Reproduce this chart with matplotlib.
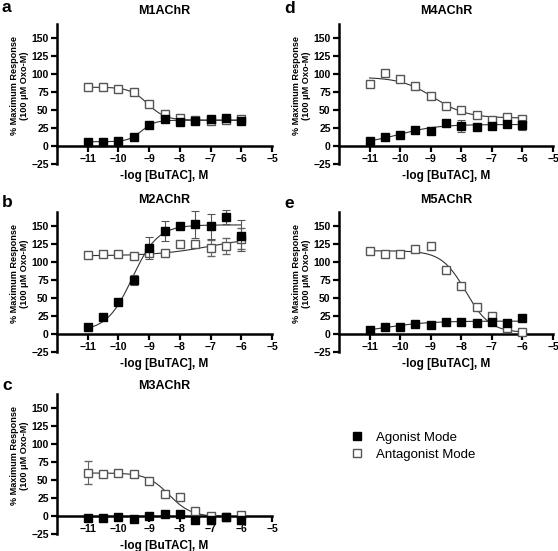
import numpy as np
import matplotlib
matplotlib.use("Agg")
import matplotlib.pyplot as plt
from matplotlib.lines import Line2D

plt.rcParams['font.family'] = ['Liberation Sans', 'DejaVu Sans']

#######################################
# data

log_conc = [-11, -10.5, -10, -9.5, -9, -8.5, -8, -7.5, -7, -6.5, -6]

panel_letters = ["a", "b", "c", "d", "e"]
panel_titles = ["M1AChR", "M2AChR", "M3AChR", "M4AChR", "M5AChR"]

agonist_m1 = [5.5, 6, 7, 12, 29, 37, 33, 35, 38, 39, 35]
antagonist_m1 = [82, 82, 80, 75, 58, 45, 39, 36, 35, 36, 38]

agonist_m2 = [10, 24, 45, 75, 120, 144, 150, 153, 150, 163, 137]
agonist_m2_err = [0, 0, 0, 7, 15, 14, 0, 19, 17, 10, 22]
antagonist_m2 = [110, 111, 111, 109, 113, 113, 126, 125, 120, 123, 133]
antagonist_m2_err = [3, 0, 0, 0, 0, 0, 0, 0, 11, 11, 15]

agonist_m3 = [-3, -3, -1, -4, 0, 3, 3, -5, -5, -1, -6]
antagonist_m3 = [60, 59, 60, 58, 49, 31, 26, 7, 0, -2, 1]
antagonist_m3_err = [16, 0, 0, 0, 0, 0, 0, 0, 0, 0, 0]

agonist_m4 = [7, 12.5, 15, 22, 21, 32, 28, 26, 28.5, 31, 29]
agonist_m4_err = [0, 0, 0, 0, 0, 0, 8, 0, 0, 0, 7]
antagonist_m4 = [87, 102, 94, 84, 70, 56, 50, 43, 36, 41, 38]

agonist_m5 = [5.5, 10.5, 10.5, 14, 13, 17, 17, 15, 17, 16, 23]
antagonist_m5 = [116, 112, 112, 118, 122, 89, 67, 37, 25, 8, 3]
antagonist_m5_err = [4, 0, 0, 0, 0, 0, 0, 0, 0, 0, 0]

# fitted curves: bottom, top, logEC50, hill (None = no curve drawn)
agonist_fits = [(6, 36, -9.25, 2.0), (4, 152, -9.55, 1.05), None,
                (3, 30, -10.0, 0.7), (0, 18, -10.5, 0.6)]
antagonist_fits = [(36, 82, -9.05, -1.5), (109, 136, -7.0, 0.5), (-1, 60, -8.35, -1.2),
                   (39, 96, -8.9, -0.8), (2, 116, -7.85, -1.1)]

agonist_all = [agonist_m1, agonist_m2, agonist_m3, agonist_m4, agonist_m5]
antagonist_all = [antagonist_m1, antagonist_m2, antagonist_m3, antagonist_m4, antagonist_m5]
zeros = [0] * len(log_conc)
agonist_err_all = [zeros, agonist_m2_err, zeros, agonist_m4_err, zeros]
antagonist_err_all = [zeros, antagonist_m2_err, antagonist_m3_err, zeros, antagonist_m5_err]

#######################################

W, H = 558, 551
fig = plt.figure(figsize=(W / 100, H / 100), dpi=100)

# axes boxes in pixels: left, top, right, bottom
boxes = [(57, 24, 272, 164), (57, 212, 272, 352), (57, 394, 272, 534),
         (339, 24, 553, 164), (339, 212, 553, 352)]
# baselines (pixels from top) for panel letter and title
letter_base = [12, 207, 390, 13, 208]
title_base = [14, 203, 389, 14, 203]


def four_pl(x, p):
    bottom, top, logec, hill = p
    return bottom + (top - bottom) / (1 + 10 ** ((logec - x) * hill))


xs = np.linspace(-11, -6, 300)

for i, (l, t, r, b) in enumerate(boxes):
    ax = fig.add_axes([l / W, 1 - b / H, (r - l) / W, (b - t) / H])
    ax.set_xlim(-12, -5)
    ax.set_ylim(-25, 170)
    ax.spines['top'].set_visible(False)
    ax.spines['right'].set_visible(False)
    ax.spines['bottom'].set_position(('data', 0))
    for s in ['left', 'bottom']:
        ax.spines[s].set_linewidth(1.8)
    ax.set_xticks(range(-11, -4))
    ax.set_yticks(range(-25, 151, 25))
    ax.tick_params(width=1.6, length=4, labelsize=7.5, pad=2)
    for lab in ax.get_xticklabels() + ax.get_yticklabels():
        lab.set_fontweight('bold')

    if agonist_fits[i] is not None:
        ax.plot(xs, four_pl(xs, agonist_fits[i]), color='#333333', lw=0.8)
    ax.plot(xs, four_pl(xs, antagonist_fits[i]), color='#333333', lw=0.8)

    ax.errorbar(log_conc, antagonist_all[i], yerr=antagonist_err_all[i], fmt='s',
                ms=5.5, mfc='white', mec='#555555', mew=1.0, ecolor='#666666',
                elinewidth=0.8, capsize=3, capthick=0.8, clip_on=False, zorder=3)
    ax.errorbar(log_conc, agonist_all[i], yerr=agonist_err_all[i], fmt='s',
                ms=5.5, mfc='black', mec='black', ecolor='#555555',
                elinewidth=0.8, capsize=3, capthick=0.8, clip_on=False, zorder=4)

    ax.set_xlabel("-log [BuTAC], M", fontsize=8.5, fontweight='bold')
    ax.xaxis.label.set_va('center')
    ax.xaxis.set_label_coords(0.5, -12 / 140)
    ax.set_ylabel("% Maximum Response\n(100 \u03bcM Oxo-M)", fontsize=6.6,
                  fontweight='bold', linespacing=1.15)
    ax.yaxis.set_label_coords(-0.13, 0.56)

    fig.text((l + r) / 2 / W, 1 - title_base[i] / H, panel_titles[i], fontsize=9,
             fontweight='bold', ha='center', va='baseline')
    fig.text((l - 55) / W, 1 - letter_base[i] / H, panel_letters[i], fontsize=12.5,
             fontweight='bold', va='baseline', ha='left')

handles = [Line2D([], [], ls='none', marker='s', ms=5.5, mfc='black', mec='black'),
           Line2D([], [], ls='none', marker='s', ms=5.5, mfc='white', mec='#555555')]
fig.legend(handles, ["Agonist Mode", "Antagonist Mode"], loc='center left',
           bbox_to_anchor=(344 / W, 1 - 446 / H), frameon=False, fontsize=9.5,
           handlelength=1.0, handletextpad=0.9, labelspacing=0.35, borderpad=0)

fig.savefig("out.png", dpi=100)
